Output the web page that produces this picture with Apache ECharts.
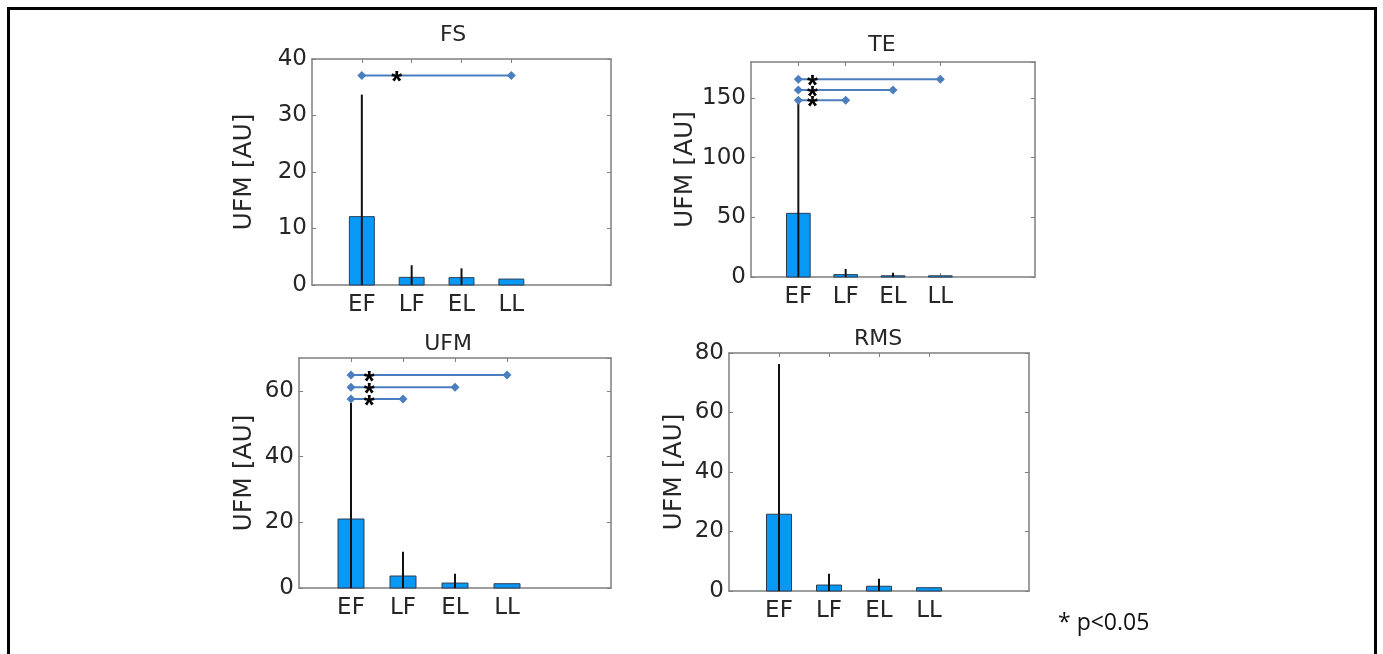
<!DOCTYPE html>
<html>
<head>
<meta charset="utf-8">
<script src="https://cdn.jsdelivr.net/npm/echarts@6/dist/echarts.min.js"></script>
<style>
  html, body { margin: 0; padding: 0; background: #fff; }
  #chart { width: 1383px; height: 654px; }
</style>
</head>
<body>
<div id="chart"></div>
<script>
// groups on the x axis
var groups = ['EF', 'LF', 'EL', 'LL'];
var panelNames = ['FS', 'TE', 'UFM', 'RMS'];

// bar heights (mean) and top of the error bar (mean + sd)
var fsMean = [12.1, 1.35, 1.3, 1.05];
var fsErrTop = [33.7, 3.5, 2.95, 1.05];
var teMean = [53.3, 2.0, 1.0, 1.0];
var teErrTop = [146, 6.7, 3.6, 1.0];
var ufmMean = [21, 3.65, 1.5, 1.3];
var ufmErrTop = [56.4, 11, 4.3, 1.3];
var rmsMean = [25.8, 2.0, 1.6, 1.1];
var rmsErrTop = [76.3, 5.8, 4.1, 1.1];

// y axis ranges / tick steps
var yMaxArr = [40, 180, 70, 80];
var yStepArr = [10, 50, 20, 20];

// significance brackets: [from group, to group, height]
var fsSig = [[1, 4, 37.1]];
var teSig = [[1, 2, 148], [1, 3, 156.5], [1, 4, 165.6]];
var ufmSig = [[1, 2, 57.5], [1, 3, 61.1], [1, 4, 64.8]];
var rmsSig = [];
// x position of the asterisks
var starX = [1.7, 1.3, 1.35, 0];

var means = [fsMean, teMean, ufmMean, rmsMean];
var errTops = [fsErrTop, teErrTop, ufmErrTop, rmsErrTop];
var sigs = [fsSig, teSig, ufmSig, rmsSig];

// grid boxes (px)
var boxes = [
  {left: 312, top: 59, width: 299, height: 226},
  {left: 751, top: 62, width: 284, height: 215},
  {left: 299, top: 358, width: 312, height: 230},
  {left: 729, top: 353, width: 300, height: 238}
];
var nameGaps = [55, 53, 42, 42];
var titlePos = [[453, 35], [882, 45], [448, 344], [878, 339]];

var axisColor = '#7f7f7f';
var textColor = '#262626';
var fontFam = 'DejaVu Sans';
var barColor = '#0898f5';
var sigColor = '#4a7ebf';

var myChart = echarts.init(document.getElementById('chart'));

var grid = [], xAxis = [], yAxis = [], series = [], graphic = [];

for (var i = 0; i < 4; i++) {
  grid.push({left: boxes[i].left, top: boxes[i].top, width: boxes[i].width, height: boxes[i].height});
  var maxIsTick = yMaxArr[i] % yStepArr[i] === 0;
  // bottom + top x axes
  xAxis.push({
    gridIndex: i, type: 'value', min: 0, max: 6, position: 'bottom',
    axisLine: {show: true, onZero: false, lineStyle: {color: axisColor, width: 1.5}},
    axisTick: {show: true, inside: true, length: 4, customValues: [1, 2, 3, 4], lineStyle: {color: axisColor}},
    axisLabel: {
      customValues: [1, 2, 3, 4], margin: 9,
      color: textColor, fontSize: 23, fontFamily: fontFam,
      formatter: function(v) { return groups[Math.round(v) - 1] || ''; }
    },
    splitLine: {show: false}
  });
  xAxis.push({
    gridIndex: i, type: 'value', min: 0, max: 6, position: 'top',
    axisLine: {show: true, onZero: false, lineStyle: {color: axisColor, width: 1.5}},
    axisTick: {show: true, inside: true, length: 4, customValues: [1, 2, 3, 4], lineStyle: {color: axisColor}},
    axisLabel: {show: false},
    splitLine: {show: false}
  });
  // left + right y axes
  yAxis.push({
    gridIndex: i, type: 'value', min: 0, max: yMaxArr[i], interval: yStepArr[i], position: 'left',
    name: 'UFM [AU]', nameLocation: 'middle', nameGap: nameGaps[i],
    nameTextStyle: {color: textColor, fontSize: 25, fontFamily: fontFam},
    axisLine: {show: true, onZero: false, lineStyle: {color: axisColor, width: 1.5}},
    axisTick: {show: true, inside: true, length: 4, lineStyle: {color: axisColor}},
    axisLabel: {color: textColor, fontSize: 23, fontFamily: fontFam, margin: 5,
      showMaxLabel: maxIsTick},
    splitLine: {show: false}
  });
  yAxis.push({
    gridIndex: i, type: 'value', min: 0, max: yMaxArr[i], interval: yStepArr[i], position: 'right',
    axisLine: {show: true, onZero: false, lineStyle: {color: axisColor, width: 1.5}},
    axisTick: {show: true, inside: true, length: 4, lineStyle: {color: axisColor}},
    axisLabel: {show: false},
    splitLine: {show: false}
  });

  // bars + error bars
  var barData = [];
  for (var k = 0; k < groups.length; k++) {
    barData.push([k + 1, means[i][k], errTops[i][k]]);
  }
  series.push({
    type: 'custom', xAxisIndex: i * 2, yAxisIndex: i * 2, data: barData, silent: true,
    renderItem: function(params, api) {
      var x = api.value(0), m = api.value(1), e = api.value(2);
      var p0 = api.coord([x - 0.25, m]);
      var p1 = api.coord([x + 0.25, 0]);
      var base = api.coord([x, 0]);
      var top = api.coord([x, e]);
      var children = [{
        type: 'rect',
        shape: {x: p0[0], y: p0[1], width: p1[0] - p0[0], height: p1[1] - p0[1]},
        style: {fill: barColor, stroke: '#2a3d52', lineWidth: 1}
      }];
      if (e > m) {
        children.push({
          type: 'line',
          shape: {x1: base[0], y1: base[1], x2: top[0], y2: top[1]},
          style: {stroke: '#111', lineWidth: 2}
        });
      }
      return {type: 'group', children: children};
    }
  });

  // significance lines
  var sig = sigs[i];
  for (var s = 0; s < sig.length; s++) {
    series.push({
      type: 'line', xAxisIndex: i * 2, yAxisIndex: i * 2, silent: true,
      data: [[sig[s][0], sig[s][2]], [sig[s][1], sig[s][2]]],
      symbol: 'diamond', symbolSize: 9, showSymbol: true,
      lineStyle: {color: sigColor, width: 2},
      itemStyle: {color: sigColor},
      z: 3
    });
  }
  if (sig.length) {
    var starData = sig.map(function(d) { return [starX[i], d[2]]; });
    series.push({
      type: 'custom', xAxisIndex: i * 2, yAxisIndex: i * 2, data: starData, silent: true, z: 5,
      renderItem: function(params, api) {
        var p = api.coord([api.value(0), api.value(1)]);
        return {
          type: 'text', x: p[0], y: p[1] + 7,
          style: {text: '*', fill: '#000', fontSize: 28, fontWeight: 'bold',
            fontFamily: 'Liberation Sans', align: 'center', verticalAlign: 'middle'}
        };
      }
    });
  }

  graphic.push({
    type: 'text', x: titlePos[i][0], y: titlePos[i][1],
    style: {text: panelNames[i], fill: textColor, fontSize: 22, fontFamily: fontFam,
      align: 'center', verticalAlign: 'middle'}
  });
}

graphic.push({
  type: 'text', x: 1058, y: 623,
  style: {text: '* p<0.05', fill: '#111', fontSize: 23, fontFamily: 'Open Sans',
    align: 'left', verticalAlign: 'middle'}
});
graphic.push({
  type: 'rect', shape: {x: 8.5, y: 8.5, width: 1367, height: 700},
  style: {fill: 'none', stroke: '#000', lineWidth: 3}
});

var option = {
  backgroundColor: '#fff',
  animation: false,
  grid: grid,
  xAxis: xAxis,
  yAxis: yAxis,
  series: series,
  graphic: graphic
};
myChart.setOption(option);
</script>
</body>
</html>
